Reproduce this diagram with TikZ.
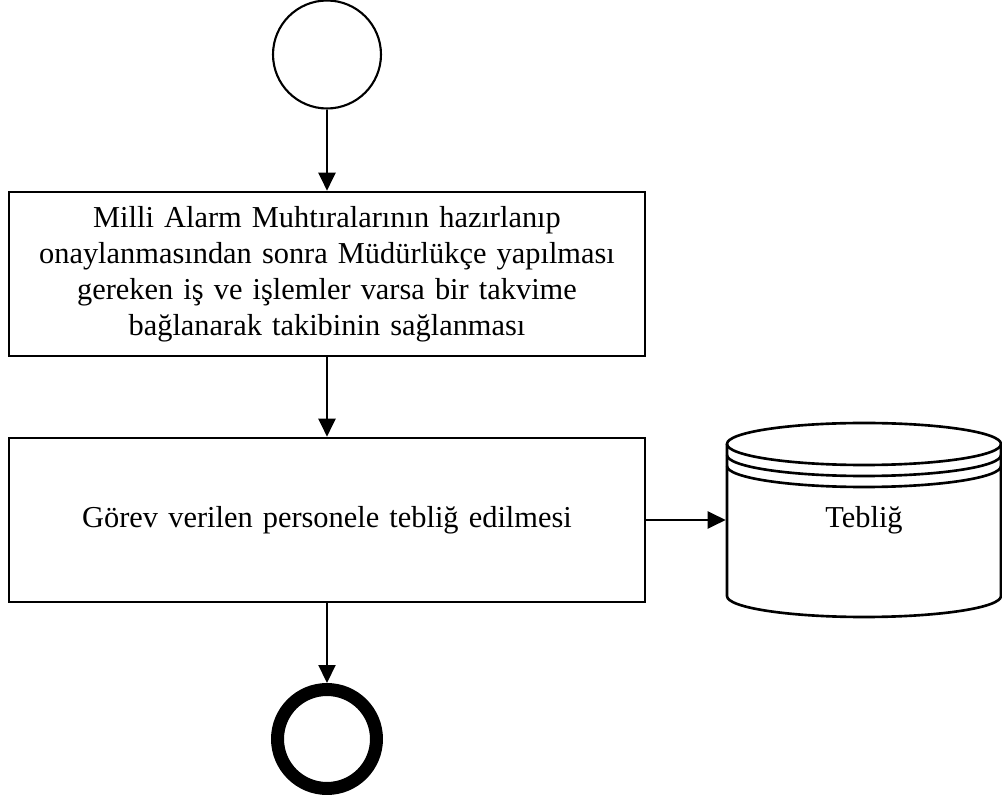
\documentclass[tikz,border=0pt]{standalone}
\usepackage{fontspec}
\setmainfont{Liberation Serif}
\usetikzlibrary{arrows.meta}

\begin{document}
\begin{tikzpicture}[x=0.02cm, y=-0.02cm, >={Triangle[length=0.36cm,width=0.34cm]},
   flow/.style={->, line width=1.2pt, shorten >=0pt},
   taskbox/.style={rectangle, draw, line width=1.5pt, minimum width=12.72cm, minimum height=3.28cm,
      text width=12.4cm, align=center, inner sep=0pt, font=\fontsize{17.3}{20.4}\selectfont},
   store/.style={line width=1.5pt}]

   \useasboundingbox (0,0) rectangle (1002,800);

   \node [circle, draw, line width=1.2pt, minimum size=2.16cm] (vStart) at (327,54.5) {};
   \node [taskbox] (vMuhtira) at (327,274)
      {Milli Alarm Muhtıralarının hazırlanıp\\ onaylanmasından sonra Müdürlükçe yapılması\\
       gereken iş ve işlemler varsa bir takvime\\ bağlanarak takibinin sağlanması};
   \node [taskbox] (vGorev) at (327,520) {Görev verilen personele tebliğ edilmesi};
   \node [circle, draw, line width=0.26cm, minimum size=1.98cm, outer sep=0.13cm] (vEnd) at (327,739) {};

   % data store
   \node [minimum width=5.48cm, minimum height=3.88cm, inner sep=0pt, outer sep=0.75pt,
      font=\fontsize{17.3}{20.4}\selectfont] (vTeblig) at (864,520) {Tebliğ};
   \draw [store] (727,444) -- (727,596) arc[start angle=180, end angle=0, x radius=137, y radius=21] -- (1001,444);
   \draw [store] (864,444) ellipse [x radius=137, y radius=21];
   \foreach \d in {11,22}
     \draw [store] (727,444+\d) arc[start angle=180, end angle=0, x radius=137, y radius=21];

   \foreach \i/\j in {Start/Muhtira, Muhtira/Gorev, Gorev/End, Gorev/Teblig}
    \draw (v\i) edge[flow] (v\j);
\end{tikzpicture}
\end{document}
